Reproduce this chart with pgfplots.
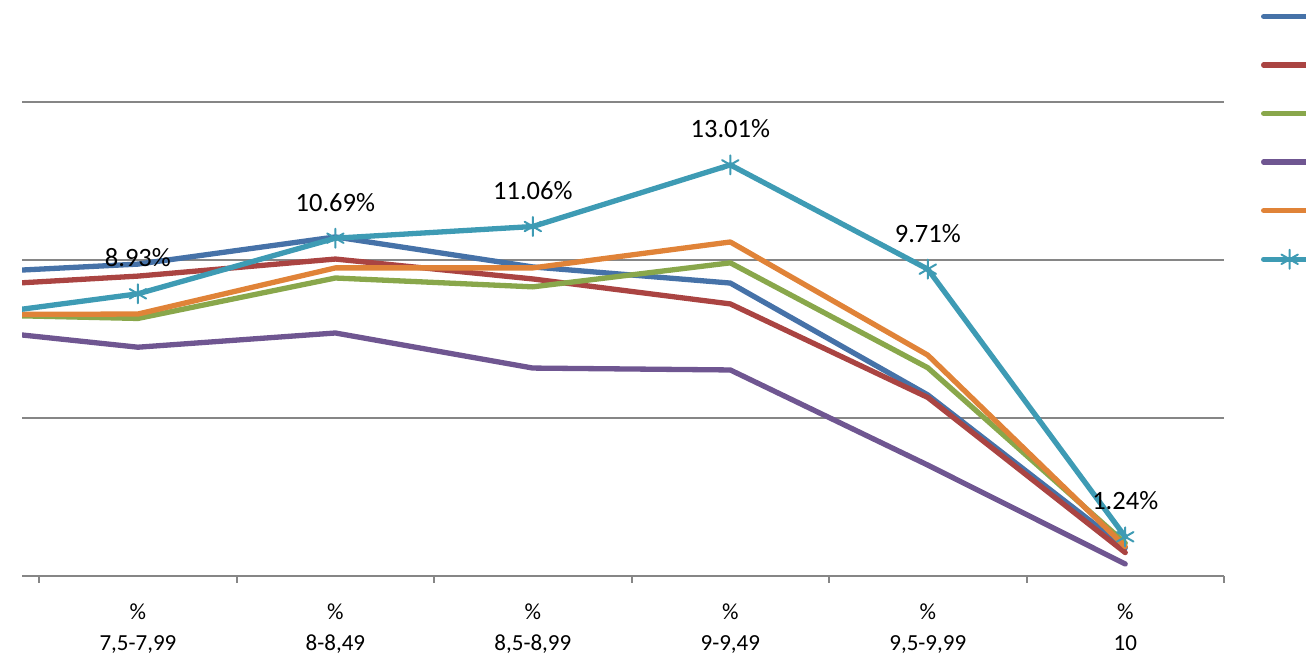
\documentclass[border=0pt]{standalone}
\usepackage{pgfplots}
\pgfplotsset{compat=1.18}
\usepackage{fontspec}
\setmainfont{Carlito}
\definecolor{cBlue}{RGB}{70,114,168}
\definecolor{cRed}{RGB}{170,68,66}
\definecolor{cGreen}{RGB}{137,167,75}
\definecolor{cPurple}{RGB}{111,86,145}
\definecolor{cOrange}{RGB}{224,131,56}
\definecolor{cCyan}{RGB}{62,155,180}
\definecolor{gridgray}{RGB}{134,134,134}
\pgfplotstableread{
x    blue  red   green purple orange
-1   9.55  9.13  8.29  7.90   8.27
0    9.87  9.49  8.15  7.24   8.29
1    10.73 10.03 9.43  7.69   9.75
2    9.78  9.40  9.15  6.58   9.75
3    9.27  8.61  9.91  6.52   10.57
4    5.73  5.65  6.59  3.51   6.99
5    0.89  0.74  1.04  0.38   0.93
}\datatable
\begin{document}
\begin{tikzpicture}
\begin{axis}[
  scale only axis, width=1202pt, height=474pt,
  xmin=-0.587, xmax=5.5, ymin=0, ymax=15,
  axis line style={draw=none},
  xtick={0,...,5},
  xticklabels={{\%\\7,5-7,99},{\%\\8-8,49},{\%\\8,5-8,99},{\%\\9-9,49},{\%\\9,5-9,99},{\%\\10}},
  minor xtick={-0.5,0.5,1.5,2.5,3.5,4.5,5.5},
  xtick pos=left,
  major tick length=0pt,
  minor tick length=7pt,
  tick align=outside,
  minor x tick style={draw=gridgray, line width=2pt},
  major x tick style={draw=none},
  xticklabel style={font=\fontsize{23}{31}\selectfont, align=center, text=black, inner sep=0pt, anchor=north, yshift=-27.5pt},
  ytick={0,5,10,15}, yticklabels={},
  ytick style={draw=none},
  ymajorgrids, major grid style={draw=gridgray, line width=2pt},
  every axis plot/.append style={line width=5.3pt, line join=round, line cap=round},
  legend image code/.code={\draw[mark repeat=2,mark phase=2,#1] plot coordinates {(0pt,0pt) (26pt,0pt) (52pt,0pt)};},
  legend style={at={(axis description cs:1.0308,1.1998)}, anchor=north west, draw=none, fill=none, inner sep=0pt, outer sep=0pt, row sep=30pt, nodes={inner sep=0pt}},
]
\addplot[cBlue, no markers] table[x=x,y=blue] {\datatable};
\addlegendentry{\rule[-17pt]{0pt}{34pt}}
\addplot[cRed, no markers] table[x=x,y=red] {\datatable};
\addlegendentry{\rule[-17pt]{0pt}{34pt}}
\addplot[cGreen, no markers] table[x=x,y=green] {\datatable};
\addlegendentry{\rule[-17pt]{0pt}{34pt}}
\addplot[cPurple, no markers] table[x=x,y=purple] {\datatable};
\addlegendentry{\rule[-17pt]{0pt}{34pt}}
\addplot[cOrange, no markers] table[x=x,y=orange] {\datatable};
\addlegendentry{\rule[-17pt]{0pt}{34pt}}
\addplot[cCyan, mark=asterisk, mark size=9.5pt, mark options={solid, line width=2pt},
  point meta=explicit symbolic, nodes near coords,
  every node near coord/.append style={font=\fontsize{26.5}{30}\selectfont, text=black, anchor=base, inner sep=0pt, yshift=27pt}]
  coordinates {(-1,8.10) [] (0,8.93) [8.93\%] (1,10.69) [10.69\%] (2,11.06) [11.06\%] (3,13.01) [13.01\%] (4,9.71) [9.71\%] (5,1.24) [1.24\%]};
\addlegendentry{\rule[-17pt]{0pt}{34pt}}
\coordinate (bbSW) at (rel axis cs:0,0);
\end{axis}
\pgfresetboundingbox
\useasboundingbox ([shift={(-22pt,-92pt)}]bbSW) rectangle ([shift={(1284pt,576pt)}]bbSW);
\end{tikzpicture}
\end{document}
